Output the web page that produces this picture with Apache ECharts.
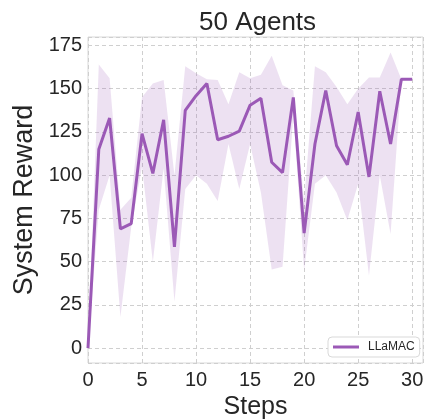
<!DOCTYPE html>
<html>
<head>
<meta charset="utf-8">
<script src="https://cdn.jsdelivr.net/npm/echarts@6/dist/echarts.min.js"></script>
<style>
  html, body { margin: 0; padding: 0; background: #fff; }
  #chart { width: 446px; height: 420px; }
</style>
</head>
<body>
<div id="chart"></div>
<script>
// Steps of the run
const steps = [0, 1, 2, 3, 4, 5, 6, 7, 8, 9, 10, 11, 12, 13, 14, 15, 16, 17, 18, 19, 20, 21, 22, 23, 24, 25, 26, 27, 28, 29, 30];
// Mean system reward per step
const reward = [0, 115, 133, 69, 72, 124, 101, 132, 58.5, 137.5, 146, 153, 120.5, 122.5, 125.5, 140.5, 144.5, 107.5, 101.5, 145, 66.5, 118, 149, 117, 106, 136.5, 99, 148.5, 118, 155.5, 155.5];
// Spread across runs (lower / upper bound)
const lower = [0, 80, 100, 18, 70, 105, 50, 104, 27, 92, 100, 95, 85, 118, 92, 118, 90, 45.5, 47, 135, 45, 95, 100, 90, 74, 95, 42, 100, 66, 155.5, 155.5];
const upper = [0, 164, 156, 80, 87, 145, 153, 155, 100, 163, 159, 155.5, 155, 141, 159.5, 156, 158, 169, 152, 149, 85, 163, 159.5, 151, 141, 150, 156.5, 156.5, 171, 155.5, 155.5];

const seriesName = 'LLaMAC';
const titleText = '50 Agents';
const xName = 'Steps';
const yName = 'System Reward';

const purple = '#9b59b6';
const font = 'Liberation Sans, Arial, sans-serif';
const textColor = '#262626';

const chart = echarts.init(document.getElementById('chart'), null, { renderer: 'canvas' });

const bandData = steps.map((s, i) => [s, lower[i], upper[i]]);

chart.setOption({
  animation: false,
  backgroundColor: '#fff',
  title: {
    text: titleText,
    left: 194,
    top: 5,
    textStyle: { fontFamily: font, fontSize: 26, fontWeight: 'normal', color: textColor }
  },
  grid: {
    left: 88, right: 23, top: 37, bottom: 57,
    outerBoundsMode: 'none', containLabel: false,
    show: true, borderColor: '#d9d9d9', borderWidth: 1, backgroundColor: 'transparent'
  },
  legend: {
    data: [seriesName],
    left: 328, top: 337,
    icon: 'rect', itemWidth: 26, itemHeight: 3,
    padding: [4, 5, 4, 5],
    borderColor: '#d9d9d9', borderWidth: 1, borderRadius: 4,
    backgroundColor: '#fff',
    textStyle: { fontFamily: font, fontSize: 12, color: textColor, padding: [0, 0, 0, 4] }
  },
  xAxis: {
    type: 'value',
    min: 0, max: 31, interval: 5,
    name: xName, nameLocation: 'middle', nameGap: 27,
    nameTextStyle: { fontFamily: font, fontSize: 25, color: textColor },
    axisLine: { show: false }, axisTick: { show: false },
    axisLabel: {
      fontFamily: font, fontSize: 20, color: textColor, margin: 7,
      formatter: v => (v % 5 === 0 ? String(v) : '')
    },
    splitLine: { show: true, lineStyle: { color: '#cfcfcf', type: [4, 3], width: 1 } }
  },
  yAxis: {
    type: 'value',
    min: -8.6, max: 179.9, minInterval: 25, maxInterval: 25, splitNumber: 7,
    name: yName, nameLocation: 'middle', nameGap: 41,
    nameTextStyle: { fontFamily: font, fontSize: 27, color: textColor },
    axisLine: { show: false }, axisTick: { show: false },
    axisLabel: {
      fontFamily: font, fontSize: 20, color: textColor, margin: 6,
      formatter: v => (Math.abs(v % 25) < 1e-6 ? String(v) : '')
    },
    splitLine: { show: true, lineStyle: { color: '#cfcfcf', type: [4, 3], width: 1 } }
  },
  series: [
    {
      name: 'band',
      type: 'custom',
      silent: true,
      data: bandData,
      encode: { x: 0, y: [1, 2] },
      renderItem: function (params, api) {
        if (params.dataIndex !== 0) return null;
        const top = bandData.map(d => api.coord([d[0], d[2]]));
        const bottom = bandData.slice().reverse().map(d => api.coord([d[0], d[1]]));
        return {
          type: 'polygon',
          shape: { points: top.concat(bottom) },
          style: { fill: 'rgba(155, 89, 182, 0.18)', stroke: 'none' }
        };
      },
      z: 1
    },
    {
      name: seriesName,
      type: 'line',
      data: steps.map((s, i) => [s, reward[i]]),
      symbol: 'none',
      lineStyle: { color: purple, width: 3 },
      itemStyle: { color: purple },
      z: 3
    }
  ]
});
</script>
</body>
</html>
